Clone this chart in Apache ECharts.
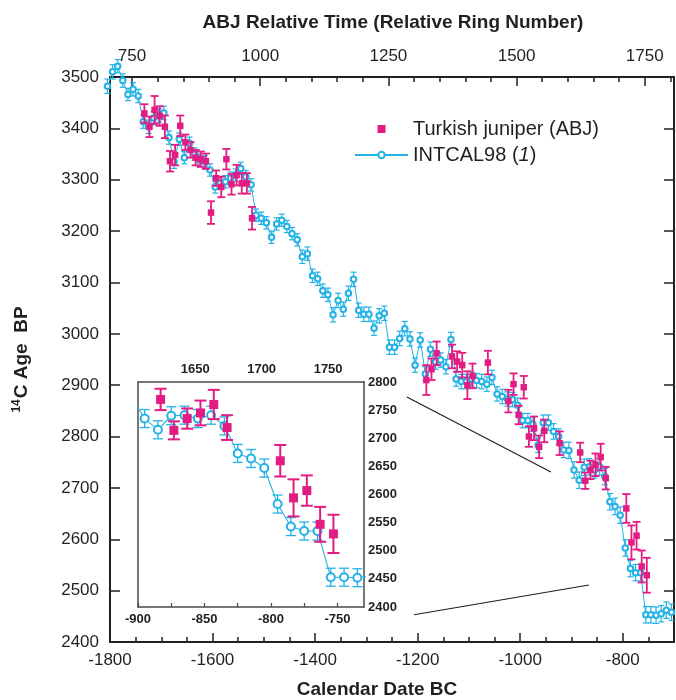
<!DOCTYPE html>
<html>
<head>
<meta charset="utf-8">
<script src="https://cdn.jsdelivr.net/npm/echarts@6/dist/echarts.min.js"></script>
<style>
html, body { margin: 0; padding: 0; background: #fff; }
#chart { width: 676px; height: 700px; }
</style>
</head>
<body>
<div id="chart"></div>
<script>
/* INTCAL98 decadal points (calendar year BC as negative, 14C age BP, 1 sigma) */
var intcalYear = [-1805, -1795, -1785, -1775, -1765, -1755, -1745, -1735, -1725, -1715,
    -1705, -1695, -1685, -1675, -1665, -1655, -1645, -1635, -1625, -1615,
    -1605, -1595, -1585, -1575, -1565, -1555, -1545, -1535, -1525, -1515,
    -1505, -1495, -1485, -1475, -1465, -1455, -1445, -1435, -1425, -1415,
    -1405, -1395, -1385, -1375, -1365, -1355, -1345, -1335, -1325, -1315,
    -1305, -1295, -1285, -1275, -1265, -1255, -1245, -1235, -1225, -1215,
    -1205, -1195, -1185, -1175, -1165, -1155, -1145, -1135, -1125, -1115,
    -1105, -1095, -1085, -1075, -1065, -1055, -1045, -1035, -1025, -1015,
    -1005, -995, -985, -975, -965, -955, -945, -935, -925, -915,
    -905, -895, -885, -875, -865, -855, -845, -835, -825, -815,
    -805, -795, -785, -775, -765, -755, -745, -735, -725, -715, -705];
var intcalAge = [3482, 3510, 3521, 3493, 3466, 3476, 3463, 3413, 3403, 3420,
    3425, 3430, 3382, 3335, 3379, 3343, 3371, 3350, 3338, 3335,
    3319, 3286, 3293, 3296, 3303, 3309, 3322, 3306, 3290, 3231,
    3225, 3216, 3188, 3214, 3221, 3209, 3195, 3183, 3150, 3156,
    3113, 3107, 3084, 3076, 3037, 3065, 3048, 3079, 3106, 3046,
    3038, 3038, 3011, 3035, 3040, 2974, 2974, 2991, 3010, 2990,
    2939, 2988, 2922, 2970, 2945, 2949, 2936, 2989, 2912, 2907,
    2907, 2912, 2909, 2907, 2902, 2915, 2883, 2878, 2873, 2872,
    2861, 2831, 2831, 2824, 2783, 2827, 2827, 2810, 2800, 2774,
    2773, 2735, 2715, 2740, 2741, 2735, 2741, 2722, 2673, 2664,
    2647, 2583, 2543, 2535, 2535, 2453, 2453, 2452, 2455, 2462, 2458];
var intcalErr = [14, 14, 13, 13, 12, 13, 13, 13, 13, 13,
    13, 13, 13, 13, 12, 12, 12, 12, 12, 12,
    12, 12, 12, 12, 12, 12, 12, 12, 12, 12,
    12, 12, 12, 12, 12, 12, 12, 12, 13, 13,
    13, 13, 13, 13, 14, 14, 14, 14, 14, 14,
    14, 14, 14, 14, 14, 14, 14, 14, 14, 14,
    14, 14, 14, 14, 14, 14, 14, 14, 14, 14,
    14, 14, 14, 14, 14, 14, 14, 14, 14, 14,
    14, 14, 14, 14, 14, 15, 15, 15, 15, 15,
    16, 16, 16, 16, 16, 16, 16, 16, 16, 16,
    16, 16, 16, 16, 16, 16, 16, 16, 16, 16, 16];

/* Turkish juniper (ABJ) */
var junYear = [-1733, -1723, -1713, -1703, -1693, -1683, -1673, -1663, -1653, -1643,
    -1633, -1623, -1613, -1603, -1593, -1583, -1573, -1563, -1553, -1543,
    -1533, -1523,
    -1183, -1173, -1163, -1133, -1123, -1113, -1103, -1093, -1063,
    -1023, -1013, -1003, -993, -983, -973, -963, -953, -923,
    -883, -873, -863, -853, -843, -833,
    -793, -783, -773, -763, -753];
var junAge = [3429, 3403, 3436, 3424, 3403, 3336, 3348, 3405, 3373, 3358,
    3343, 3340, 3336, 3236, 3303, 3286, 3340, 3291, 3309, 3293,
    3293, 3225,
    2910, 2931, 2962, 2956, 2946, 2939, 2900, 2918, 2944,
    2869, 2902, 2842, 2896, 2800, 2816, 2780, 2811, 2787,
    2769, 2714, 2735, 2745, 2760, 2719,
    2660, 2594, 2607, 2547, 2530];
var junErr = [18, 20, 27, 19, 22, 20, 20, 20, 15, 15,
    15, 15, 15, 22, 15, 20, 20, 20, 20, 20,
    20, 22,
    29, 21, 23, 23, 20, 24, 27, 24, 23,
    22, 21, 18, 22, 20, 23, 22, 22, 23,
    19, 16, 18, 22, 26, 22,
    28, 33, 27, 31, 34];

/* axis ticks and labels */
var ringOffset = 2507;
var bottomMajor = [-1800, -1600, -1400, -1200, -1000, -800];
var bottomMinor = [-1750, -1700, -1650, -1550, -1500, -1450, -1350, -1300, -1250,
    -1150, -1100, -1050, -950, -900, -850, -750];
var topMajor = [750, 1000, 1250, 1500, 1750];
var topMinor = [800, 850, 900, 950, 1050, 1100, 1150, 1200, 1300, 1350, 1400, 1450,
    1550, 1600, 1650, 1700, 1800];
var insetTicks = [-900, -875, -850, -825, -800, -775, -750];
var insetBottomLabels = [-900, -850, -800, -750];
var insetTopLabels = [1650, 1700, 1750];

/* zoom guide lines (calendar year, 14C age) */
var guideUpper = [[-1221, 2877], [-940, 2731]];
var guideLower = [[-1207, 2453], [-866, 2511]];

var INK = '#231f20';
var MAGENTA = '#e31c83';
var CYAN = '#22b2e6';
var FONT = '"Liberation Sans", Arial, Helvetica, sans-serif';

var intcalPts = intcalYear.map(function (x, i) { return [x, intcalAge[i]]; });
var intcalBars = intcalYear.map(function (x, i) { return [x, intcalAge[i] - intcalErr[i], intcalAge[i] + intcalErr[i]]; });
var junPts = junYear.map(function (x, i) { return [x, junAge[i]]; });
var junBars = junYear.map(function (x, i) { return [x, junAge[i] - junErr[i], junAge[i] + junErr[i]]; });

function errBar(capHalf, color, width) {
    return function (params, api) {
        var x = api.value(0);
        var top = api.coord([x, api.value(2)]);
        var bot = api.coord([x, api.value(1)]);
        var st = { stroke: color, lineWidth: width };
        return {
            type: 'group',
            children: [
                { type: 'line', shape: { x1: top[0], y1: top[1], x2: bot[0], y2: bot[1] }, style: st },
                { type: 'line', shape: { x1: top[0] - capHalf, y1: top[1], x2: top[0] + capHalf, y2: top[1] }, style: st },
                { type: 'line', shape: { x1: bot[0] - capHalf, y1: bot[1], x2: bot[0] + capHalf, y2: bot[1] }, style: st }
            ]
        };
    };
}

// plain numbers, no thousands separator
function plain(v) { return String(v); }

var labelMain = { color: INK, fontSize: 17, fontFamily: FONT, formatter: plain };
var labelInset = { color: INK, fontSize: 13, fontWeight: 'bold', fontFamily: FONT, formatter: plain };

var chart = echarts.init(document.getElementById('chart'));
chart.setOption({
    animation: false,
    backgroundColor: '#fff',
    grid: [
        { left: 110, top: 77, width: 564, height: 565 },
        { left: 138, top: 382, width: 226, height: 225 }
    ],
    xAxis: [
        {
            gridIndex: 0, type: 'value', position: 'bottom', min: -1800, max: -700,
            axisLine: { lineStyle: { color: INK, width: 2 } },
            axisTick: { inside: true, length: 9, customValues: bottomMajor, lineStyle: { color: INK, width: 1.5 } },
            axisLabel: Object.assign({ customValues: bottomMajor, margin: 10 }, labelMain),
            splitLine: { show: false }
        },
        {
            gridIndex: 0, type: 'value', position: 'top', min: -1800 + ringOffset, max: -700 + ringOffset,
            axisLine: { lineStyle: { color: INK, width: 2 } },
            axisTick: { inside: true, length: 9, customValues: topMajor, lineStyle: { color: INK, width: 1.5 } },
            axisLabel: Object.assign({ customValues: topMajor, margin: 12 }, labelMain),
            splitLine: { show: false }
        },
        {
            gridIndex: 0, type: 'value', position: 'top', min: -1800 + ringOffset, max: -700 + ringOffset,
            axisLine: { show: false },
            axisTick: { inside: true, length: 5, customValues: topMinor, lineStyle: { color: INK, width: 1.5 } },
            axisLabel: { show: false },
            splitLine: { show: false }
        },
        {
            gridIndex: 0, type: 'value', position: 'bottom', min: -1800, max: -700,
            axisLine: { show: false },
            axisTick: { inside: true, length: 5, customValues: bottomMinor, lineStyle: { color: INK, width: 1.5 } },
            axisLabel: { show: false },
            splitLine: { show: false }
        },
        {
            gridIndex: 1, type: 'value', position: 'bottom', min: -900, max: -730,
            axisLine: { lineStyle: { color: '#4a4a4a', width: 1.5 } },
            axisTick: { inside: true, length: 4, customValues: insetTicks, lineStyle: { color: '#4a4a4a', width: 1.2 } },
            axisLabel: Object.assign({ customValues: insetBottomLabels, margin: 6 }, labelInset),
            splitLine: { show: false }
        },
        {
            gridIndex: 1, type: 'value', position: 'top', min: -900 + ringOffset, max: -730 + ringOffset,
            axisLine: { lineStyle: { color: '#4a4a4a', width: 1.5 } },
            axisTick: { show: false },
            axisLabel: Object.assign({ customValues: insetTopLabels, margin: 6 }, labelInset),
            splitLine: { show: false }
        }
    ],
    yAxis: [
        {
            gridIndex: 0, type: 'value', position: 'left', min: 2400, max: 3500, interval: 100,
            name: '{s|14}C Age  BP', nameLocation: 'middle', nameGap: 78,
            nameTextStyle: {
                color: INK, fontSize: 19, fontWeight: 'bold', fontFamily: FONT,
                rich: { s: { fontSize: 12, fontWeight: 'bold', fontFamily: FONT, color: INK, padding: [0, 1, 9, 0] } }
            },
            axisLine: { lineStyle: { color: INK, width: 2 } },
            axisTick: { inside: true, length: 10, lineStyle: { color: INK, width: 1.5 } },
            axisLabel: Object.assign({ margin: 11 }, labelMain),
            splitLine: { show: false }
        },
        {
            gridIndex: 0, type: 'value', position: 'right', min: 2400, max: 3500, interval: 100,
            axisLine: { lineStyle: { color: INK, width: 2 } },
            axisTick: { inside: true, length: 10, lineStyle: { color: INK, width: 1.5 } },
            axisLabel: { show: false },
            splitLine: { show: false }
        },
        {
            gridIndex: 1, type: 'value', position: 'right', min: 2400, max: 2800, interval: 50,
            axisLine: { lineStyle: { color: '#4a4a4a', width: 1.5 } },
            axisTick: { show: false },
            axisLabel: Object.assign({ margin: 4 }, labelInset),
            splitLine: { show: false }
        },
        {
            gridIndex: 1, type: 'value', position: 'left', min: 2400, max: 2800,
            axisLine: { lineStyle: { color: '#4a4a4a', width: 1.5 } },
            axisTick: { show: false },
            axisLabel: { show: false },
            splitLine: { show: false }
        }
    ],
    legend: {
        orient: 'vertical', left: 349, top: 114, itemWidth: 53, itemHeight: 8, itemGap: 6,
        textStyle: {
            color: INK, fontSize: 20, fontFamily: FONT,
            rich: { i: { fontStyle: 'italic', fontSize: 20, fontFamily: FONT, color: INK } }
        },
        formatter: function (name) {
            return name === 'INTCAL98 (1)' ? 'INTCAL98 ({i|1})' : name;
        },
        data: [
            { name: 'Turkish juniper (ABJ)', icon: 'path://M0,0h10v10h-10z' },
            { name: 'INTCAL98 (1)' }
        ]
    },
    graphic: [
        { type: 'text', x: 393, y: 23, style: { text: 'ABJ Relative Time (Relative Ring Number)', font: 'bold 19px ' + FONT, fill: INK, textAlign: 'center', textVerticalAlign: 'middle' } },
        { type: 'text', x: 377, y: 690, style: { text: 'Calendar Date BC', font: 'bold 19px ' + FONT, fill: INK, textAlign: 'center', textVerticalAlign: 'middle' } }
    ],
    series: [
        /* main panel */
        {
            name: 'intcalErr', type: 'custom', xAxisIndex: 0, yAxisIndex: 0, clip: false, z: 2,
            renderItem: errBar(3, CYAN, 1.2), encode: { x: 0, y: [1, 2] }, data: intcalBars
        },
        {
            name: 'INTCAL98 (1)', type: 'line', xAxisIndex: 0, yAxisIndex: 0, clip: false, z: 3,
            symbol: 'emptyCircle', symbolSize: 5.5,
            lineStyle: { color: CYAN, width: 1 },
            itemStyle: { color: CYAN, borderWidth: 1.2 },
            data: intcalPts
        },
        {
            name: 'junErr', type: 'custom', xAxisIndex: 0, yAxisIndex: 0, clip: false, z: 4,
            renderItem: errBar(4, MAGENTA, 1.8), encode: { x: 0, y: [1, 2] }, data: junBars
        },
        {
            name: 'Turkish juniper (ABJ)', type: 'scatter', xAxisIndex: 0, yAxisIndex: 0, clip: false, z: 5,
            symbol: 'rect', symbolSize: 6.5, itemStyle: { color: MAGENTA, opacity: 1 },
            data: junPts
        },
        /* inset panel */
        {
            name: 'intcalErrInset', type: 'custom', xAxisIndex: 4, yAxisIndex: 2, clip: true, z: 2,
            renderItem: errBar(5, CYAN, 1.3), encode: { x: 0, y: [1, 2] }, data: intcalBars
        },
        {
            name: 'INTCAL98 (1)', type: 'line', xAxisIndex: 4, yAxisIndex: 2, clip: true, z: 3,
            symbol: 'emptyCircle', symbolSize: 8,
            lineStyle: { color: CYAN, width: 1.1 },
            itemStyle: { color: CYAN, borderWidth: 1.4 },
            data: intcalPts
        },
        {
            name: 'junErrInset', type: 'custom', xAxisIndex: 4, yAxisIndex: 2, clip: true, z: 4,
            renderItem: errBar(6, MAGENTA, 2), encode: { x: 0, y: [1, 2] }, data: junBars
        },
        {
            name: 'Turkish juniper (ABJ)', type: 'scatter', xAxisIndex: 4, yAxisIndex: 2, clip: true, z: 5,
            symbol: 'rect', symbolSize: 9, itemStyle: { color: MAGENTA, opacity: 1 },
            data: junPts
        },
        /* guides from the main curve to the inset */
        {
            name: 'guides', type: 'lines', coordinateSystem: 'cartesian2d', xAxisIndex: 0, yAxisIndex: 0,
            silent: true, z: 1,
            lineStyle: { color: INK, width: 1.2, opacity: 1 },
            data: [{ coords: guideUpper }, { coords: guideLower }]
        }
    ]
});
</script>
</body>
</html>
